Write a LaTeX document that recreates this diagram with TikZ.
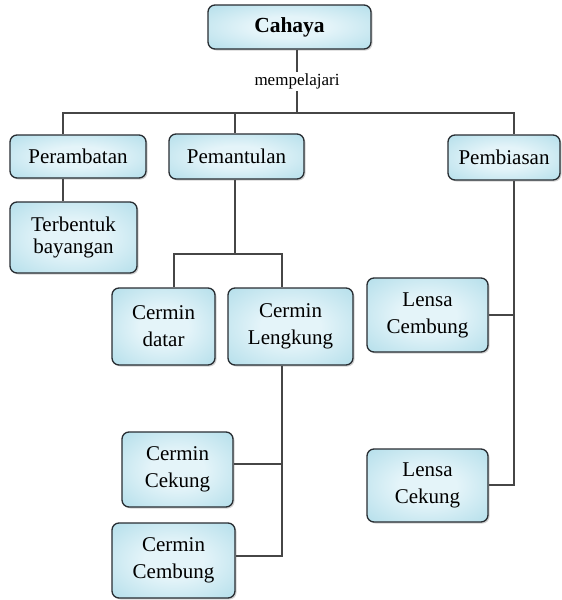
\documentclass[tikz,border=0pt]{standalone}
\usepackage{fontspec}
\setmainfont{Liberation Serif}
\usetikzlibrary{shadows}
\definecolor{boxlight}{RGB}{228,244,249}
\definecolor{boxmid}{RGB}{172,219,232}
\definecolor{boxdark}{RGB}{112,184,207}
\definecolor{boxline}{RGB}{40,45,50}
\definecolor{linkgray}{RGB}{70,70,70}
\pgfdeclareradialshading{boxshade}{\pgfpoint{0bp}{0bp}}{color(0bp)=(boxlight); color(12bp)=(boxlight); color(40bp)=(boxmid); color(55bp)=(boxdark); color(75bp)=(boxdark)}

\begin{document}
\begin{tikzpicture}[x=1pt,y=1pt]
    \tikzstyle{every node}+=[font=\fontsize{21}{27}\selectfont]
    \tikzstyle{box}=[draw=boxline, line width=1.3pt, rounded corners=7pt, shading=boxshade, drop shadow={shadow xshift=1.5pt, shadow yshift=-1.5pt, opacity=0.35}, align=center, inner sep=0pt]
    \tikzstyle{link}=[draw=linkgray, line width=1.3pt]
    \useasboundingbox (0,0) rectangle (562,-600);
    \node [box, minimum width=163, minimum height=44, font=\fontsize{21.5}{26}\selectfont\bfseries] (cahaya) at (289.5,-27) {Cahaya};
    \node [box, minimum width=136, minimum height=43] (perambatan) at (78,-156.5) {Perambatan};
    \node [box, minimum width=127, minimum height=71] (terbentuk) at (73.5,-237.5) {Terbentuk\\[-5pt]bayangan};
    \node [box, minimum width=135, minimum height=45] (pemantulan) at (236.5,-156.5) {Pemantulan};
    \node [box, minimum width=112, minimum height=45] (pembiasan) at (504,-157.5) {Pembiasan};
    \node [box, minimum width=103, minimum height=77] (datar) at (163.5,-326.5) {Cermin\\datar};
    \node [box, minimum width=125, minimum height=77] (lengkung) at (290.5,-326.5) {Cermin\\Lengkung};
    \node [box, minimum width=111, minimum height=75] (cekung) at (177.5,-469.5) {Cermin\\Cekung};
    \node [box, minimum width=123, minimum height=75] (cembungc) at (173.5,-560.5) {Cermin\\Cembung};
    \node [box, minimum width=121, minimum height=74] (lcembung) at (427.5,-315) {Lensa\\Cembung};
    \node [box, minimum width=121, minimum height=73] (lcekung) at (427.5,-485.5) {Lensa\\Cekung};
    \coordinate (top) at (297,-113);
    \coordinate (busL) at (63,-113);
    \coordinate (busR) at (514,-113);
    \coordinate (pemtop) at (235,-113);
    \coordinate (subL) at (174,-254);
    \coordinate (subR) at (282,-254);
    \coordinate (cekpt) at (282,-464);
    \coordinate (cempt) at (282,-556);
    \coordinate (lenspt) at (514,-485);
    \draw [link] (cahaya.south -| top) -- node [fill=white, inner sep=2pt, font=\fontsize{17}{20}\selectfont] (mempelajari) {mempelajari} (top);
    \draw [link] (busL |- perambatan.north) -- (busL) -- (busR) -- (busR |- pembiasan.north);
    \draw [link] (pemtop) -- (pemtop |- pemantulan.north);
    \draw [link] (busL |- perambatan.south) -- (busL |- terbentuk.north);
    \draw [link] (pemtop |- pemantulan.south) -- (pemtop |- subL);
    \draw [link] (subL |- datar.north) -- (subL) -- (subR) -- (subR |- lengkung.north);
    \draw [link] (subR |- lengkung.south) -- (cempt) -- (cempt -| cembungc.east);
    \draw [link] (cekpt) -- (cekpt -| cekung.east);
    \draw [link] (busR |- pembiasan.south) -- (lenspt) -- (lenspt -| lcekung.east);
    \draw [link] (lcembung.east) -- (lcembung.east -| busR);
\end{tikzpicture}
\end{document}
